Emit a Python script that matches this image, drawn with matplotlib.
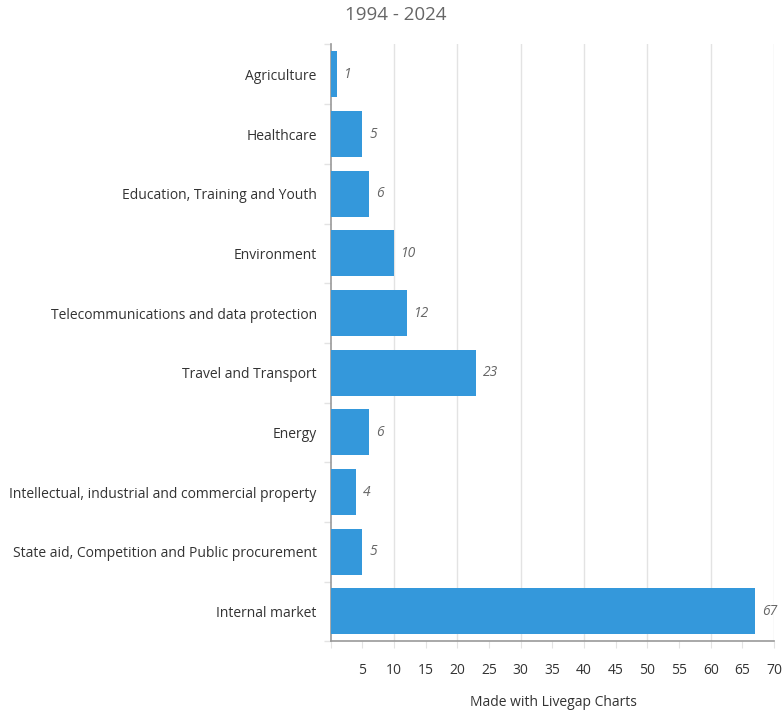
import matplotlib.pyplot as plt
from matplotlib.ticker import FixedLocator

# 数据（自上而下）
categories = [
    "Agriculture",
    "Healthcare",
    "Education, Training and Youth",
    "Environment",
    "Telecommunications and data protection",
    "Travel and Transport",
    "Energy",
    "Intellectual, industrial and commercial property",
    "State aid, Competition and Public procurement",
    "Internal market",
]
values = [1, 5, 6, 10, 12, 23, 6, 4, 5, 67]

title = "1994 - 2024"
credit = "Made with Livegap Charts"

BAR_COLOR = "#3498db"
TEXT_COLOR = "#333333"
GREY_TEXT = "#666666"
GRID_COLOR = "#e3e3e3"
AXIS_COLOR = "#999999"

plt.rcParams["font.family"] = ["Open Sans", "DejaVu Sans"]

fig = plt.figure(figsize=(7.82, 7.13), dpi=100)
ax = fig.add_axes([0.4229, 0.1006, 0.5669, 0.8370])

y = list(range(len(categories)))
ax.barh(y, values, height=0.77, color=BAR_COLOR, zorder=3)

# 数值标签
for yi, v in zip(y, values):
    ax.annotate(str(v), (v, yi), xytext=(5, 0), textcoords="offset points",
                ha="left", va="center", fontsize=10, style="italic",
                color=GREY_TEXT)

ax.set_ylim(len(categories) - 0.5, -0.5)
ax.set_xlim(0, 70)

# y 轴
ax.set_yticks(y)
ax.set_yticklabels(categories, fontsize=10, color=TEXT_COLOR)
ax.tick_params(axis="y", which="major", length=0, pad=10)
ax.yaxis.set_minor_locator(FixedLocator([i - 0.5 for i in range(len(categories) + 1)]))
ax.tick_params(axis="y", which="minor", length=5, color=GRID_COLOR, width=1)

# x 轴
ax.set_xticks(range(0, 75, 5))
ax.set_xticklabels([""] + [str(t) for t in range(5, 75, 5)],
                   fontsize=10, color=TEXT_COLOR)
ax.tick_params(axis="x", which="major", length=5, color=GRID_COLOR, pad=11)

# 网格线
for gx in range(10, 80, 10):
    ax.axvline(gx, color=GRID_COLOR, linewidth=1, zorder=1)

for side in ["top", "right"]:
    ax.spines[side].set_visible(False)
for side in ["left", "bottom"]:
    ax.spines[side].set_color(AXIS_COLOR)
    ax.spines[side].set_linewidth(1.2)

fig.text(396 / 782, 1 - 15 / 713, title, ha="center", va="center",
         fontsize=13.5, color=GREY_TEXT)
fig.text(553 / 782, 1 - 703 / 713, credit, ha="center", va="center",
         fontsize=10, color=TEXT_COLOR)

fig.savefig("out.png", dpi=100)
